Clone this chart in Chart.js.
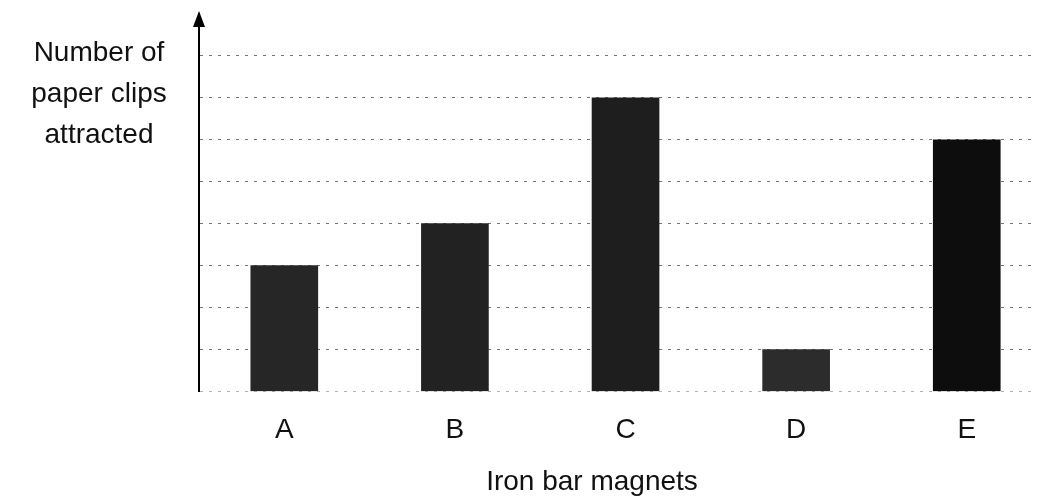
<!DOCTYPE html>
<html>
<head>
<meta charset="utf-8">
<script src="https://cdn.jsdelivr.net/npm/chart.js@4"></script>
<style>
  html, body { margin: 0; padding: 0; background: #fff; overflow: hidden; }
  #wrap { width: 1037px; height: 503px; }
</style>
</head>
<body>
<div id="wrap"><canvas id="magnetChart"></canvas></div>
<script>
// Magnets and how many paper clips each one picked up
const magnets = ["A", "B", "C", "D", "E"];
const clips = [3, 4, 7, 1, 6];
const yTitleLines = ["Number of", "paper clips", "attracted"];
const xTitle = "Iron bar magnets";

const FONT = "'Liberation Sans', Arial, sans-serif";

// y-axis arrow head, the three-line y label and the x label underneath
const axisDecor = {
    id: 'axisDecor',
    afterDraw(chart) {
        const ctx = chart.ctx;
        const area = chart.chartArea;
        ctx.save();
        ctx.fillStyle = '#000';
        ctx.beginPath();
        ctx.moveTo(area.left, area.top - 3);
        ctx.lineTo(area.left - 6, area.top + 13);
        ctx.lineTo(area.left + 6, area.top + 13);
        ctx.closePath();
        ctx.fill();

        ctx.fillStyle = '#111';
        ctx.font = '28px ' + FONT;
        ctx.textAlign = 'center';
        ctx.textBaseline = 'alphabetic';
        yTitleLines.forEach((line, i) => {
            ctx.fillText(line, 99, 61 + i * 41);
        });
        ctx.fillText(xTitle, 592, 490);
        ctx.restore();
    }
};

const ctx = document.getElementById('magnetChart').getContext('2d');
new Chart(ctx, {
    type: 'bar',
    data: {
        datasets: [{
            data: clips.map((v, i) => ({ x: i, y: v })),
            backgroundColor: ['#262626', '#222', '#1e1e1e', '#2c2c2c', '#0d0d0d'],
            barThickness: 67
        }]
    },
    options: {
        responsive: true,
        maintainAspectRatio: false,
        animation: false,
        layout: { padding: { top: 14, right: 2, bottom: 34, left: 0 } },
        plugins: {
            legend: { display: false },
            tooltip: { enabled: false }
        },
        scales: {
            x: {
                type: 'linear',
                offset: false,
                min: -0.5,
                max: 4.4,
                afterBuildTicks: s => { s.ticks = magnets.map((_, i) => ({ value: i })); },
                grid: { display: false, drawTicks: false },
                border: { display: false },
                ticks: {
                    padding: 22,
                    color: '#111',
                    font: { family: FONT, size: 28 },
                    callback: v => magnets[v]
                }
            },
            y: {
                min: 0,
                max: 9,
                afterFit: s => { s.width = 199; },
                ticks: { display: false, stepSize: 1 },
                grid: {
                    drawTicks: false,
                    lineWidth: 1,
                    // dotted lines at every whole count, none above the top one
                    color: c => c.tick.value === 9 ? 'rgba(0,0,0,0)'
                        : c.tick.value === 0 ? 'rgba(0,0,0,0.3)' : 'rgba(0,0,0,0.55)'
                },
                border: { display: true, color: '#000', width: 2, dash: [3, 6] }
            }
        }
    },
    plugins: [axisDecor]
});
</script>
</body>
</html>
